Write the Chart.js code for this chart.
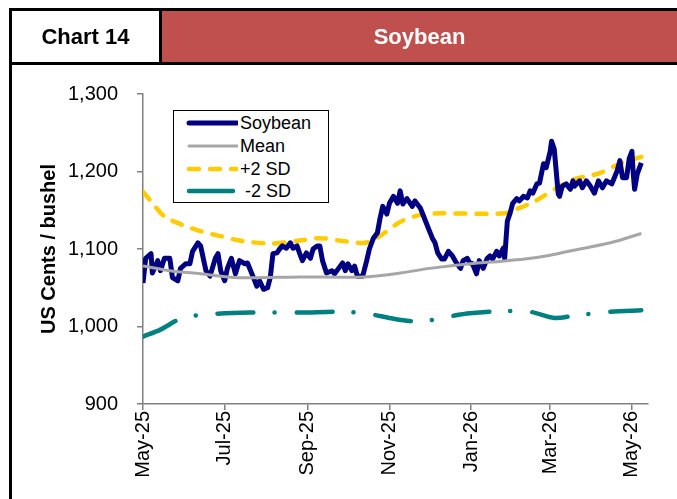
<!DOCTYPE html>
<html lang="en">
<head>
    <meta charset="UTF-8">
    <title>Chart 14 - Soybean</title>
    <style>
        body { margin: 0; background: #FFFFFF; font-family: "Liberation Sans", Arial, sans-serif; }
        #page { position: relative; width: 677px; height: 499px; overflow: hidden; background: #FFFFFF; }
        #chartCanvas { position: absolute; left: 0; top: 0; }
        .bar { position: absolute; background: #000000; }
        .cell { position: absolute; display: flex; align-items: center; justify-content: center; font-weight: bold; font-size: 22px; }
        #legend { position: absolute; left: 173px; top: 110px; width: 154px; height: 91px; border: 1px solid #000000; background: #FFFFFF; }
        .row { position: absolute; left: 0; height: 20px; width: 154px; }
        .row svg { position: absolute; left: 12px; top: 0; }
        .row span { position: absolute; left: 66px; top: 0; font-size: 18px; line-height: 20px; color: #000000; white-space: pre; }
    </style>
    <script src="https://cdn.jsdelivr.net/npm/chart.js"></script>
</head>
<body>
<div id="page">
    <canvas id="chartCanvas" width="677" height="499"></canvas>

    <!-- header frame -->
    <div class="bar" style="left:9px; top:8px; width:3px; height:491px;"></div>
    <div class="bar" style="left:9px; top:8px; width:668px; height:3px;"></div>
    <div class="bar" style="left:9px; top:62px; width:668px; height:3px;"></div>
    <div class="bar" style="left:159px; top:8px; width:3px; height:57px;"></div>
    <div class="cell" style="left:12px; top:11px; width:147px; height:51px; color:#000000;">Chart 14</div>
    <div class="cell" style="left:162px; top:11px; width:515px; height:51px; background:#C0504D; color:#FFFFFF;">Soybean</div>

    <!-- legend -->
    <div id="legend">
        <div class="row" style="top:2px;">
            <svg width="52" height="20"><line x1="3" y1="10" x2="51" y2="10" stroke="#000080" stroke-width="5" stroke-linecap="round"/></svg>
            <span>Soybean</span>
        </div>
        <div class="row" style="top:25px;">
            <svg width="52" height="20"><line x1="3" y1="10" x2="51" y2="10" stroke="#A6A6A6" stroke-width="3" stroke-linecap="round"/></svg>
            <span>Mean</span>
        </div>
        <div class="row" style="top:48px;">
            <svg width="52" height="20"><line x1="3" y1="10" x2="51" y2="10" stroke="#FFCC00" stroke-width="4.5" stroke-linecap="round" stroke-dasharray="10 11"/></svg>
            <span>+2 SD</span>
        </div>
        <div class="row" style="top:70px;">
            <svg width="52" height="20"><line x1="3" y1="10" x2="47" y2="10" stroke="#008080" stroke-width="4.5" stroke-linecap="round"/></svg>
            <span> -2 SD</span>
        </div>
    </div>
</div>

<script>
    // x values are days since 1 May 2025
    const tickDays = [0, 61, 123, 184, 245, 304, 365];
    const tickLabels = ["May-25", "Jul-25", "Sep-25", "Nov-25", "Jan-26", "Mar-26", "May-26"];

    // Soybean price (US cents / bushel)
    const soyDays = [0, 2, 6, 7, 11, 13, 16, 20, 22, 26, 28, 32, 35, 37, 41, 43, 47, 50, 54, 56,
        58, 61, 63, 66, 69, 72, 76, 78, 82, 85, 87, 90, 93, 95, 97, 100, 102, 104, 107, 110,
        112, 115, 117, 119, 122, 125, 127, 130, 132, 134, 137, 141, 143, 146, 149, 151, 153, 156, 158, 160,
        164, 167, 169, 172, 175, 177, 179, 182, 184, 187, 190, 192, 194, 197, 201, 203, 207, 210, 213, 216,
        218, 220, 223, 225, 228, 231, 234, 237, 239, 242, 244, 246, 249, 251, 254, 257, 259, 261, 264, 266,
        269, 270, 272, 274, 276, 279, 281, 284, 287, 289, 291, 294, 296, 299, 301, 304, 305, 307, 310, 311,
        313, 316, 319, 321, 322, 326, 328, 331, 334, 337, 340, 343, 346, 350, 354, 356, 358, 361, 363, 365,
        366, 367, 369, 372];
    const soyValues = [1056, 1088, 1094, 1069, 1085, 1072, 1088, 1088, 1063, 1059, 1075, 1081, 1081, 1097, 1108, 1104, 1072, 1065, 1088, 1094,
        1072, 1059, 1075, 1088, 1068, 1085, 1081, 1082, 1065, 1052, 1059, 1048, 1050, 1063, 1094, 1095, 1100, 1104, 1101, 1108,
        1101, 1104, 1094, 1085, 1095, 1088, 1100, 1104, 1104, 1085, 1069, 1072, 1068, 1075, 1082, 1072, 1081, 1072, 1078, 1065,
        1065, 1085, 1100, 1114, 1121, 1140, 1155, 1145, 1159, 1168, 1159, 1175, 1158, 1165, 1155, 1162, 1153, 1140, 1127, 1114,
        1108, 1095, 1087, 1087, 1097, 1091, 1082, 1075, 1085, 1088, 1082, 1081, 1068, 1085, 1075, 1088, 1091, 1087, 1097, 1091,
        1101, 1088, 1136, 1146, 1159, 1165, 1162, 1168, 1166, 1175, 1172, 1184, 1185, 1210, 1205, 1226, 1239, 1229, 1171, 1168,
        1181, 1184, 1177, 1188, 1181, 1188, 1179, 1188, 1181, 1172, 1188, 1179, 1188, 1184, 1201, 1214, 1192, 1192, 1217, 1226,
        1197, 1177, 1197, 1211];

    // Mean
    const meanDays = [0, 20, 43, 71, 117, 164, 192, 214, 244, 266, 285, 304, 326, 349, 372];
    const meanValues = [1078, 1072, 1068, 1063, 1064, 1064, 1069, 1075, 1081, 1084, 1087, 1092, 1100, 1108, 1120];

    // +2 SD
    const upperDays = [0, 9, 16, 28, 43, 57, 72, 95, 117, 132, 151, 166, 177, 192, 207, 222, 270, 281, 293, 311, 322, 341, 356, 372];
    const upperValues = [1174, 1155, 1142, 1132, 1123, 1117, 1111, 1107, 1111, 1114, 1110, 1108, 1117, 1135, 1144, 1146, 1146, 1153, 1162, 1181, 1190, 1198, 1210, 1219];

    // -2 SD
    const lowerDays = [0, 13, 28, 43, 80, 117, 151, 169, 184, 199, 214, 229, 244, 270, 289, 307, 326, 349, 372];
    const lowerValues = [987, 996, 1010, 1015, 1018, 1018, 1019, 1016, 1011, 1007, 1008, 1013, 1017, 1020, 1019, 1011, 1015, 1019, 1021];

    function toPoints(days, values) {
        return days.map((d, i) => ({ x: d, y: values[i] }));
    }

    const font = { family: "'Liberation Sans', Arial, sans-serif", size: 20 };

    new Chart(document.getElementById("chartCanvas").getContext("2d"), {
        type: "line",
        data: {
            datasets: [
                {
                    label: "-2 SD",
                    data: toPoints(lowerDays, lowerValues),
                    borderColor: "#008080",
                    borderWidth: 4.5,
                    borderDash: [36, 21, 0.1, 22],
                    borderCapStyle: "round",
                    pointRadius: 0,
                    tension: 0.3
                },
                {
                    label: "Mean",
                    data: toPoints(meanDays, meanValues),
                    borderColor: "#A6A6A6",
                    borderWidth: 3,
                    pointRadius: 0,
                    tension: 0.3
                },
                {
                    label: "Soybean",
                    data: toPoints(soyDays, soyValues),
                    borderColor: "#000080",
                    borderWidth: 5,
                    borderJoinStyle: "round",
                    pointRadius: 0,
                    tension: 0
                },
                {
                    label: "+2 SD",
                    data: toPoints(upperDays, upperValues),
                    borderColor: "#FFCC00",
                    borderWidth: 4.5,
                    borderDash: [10, 11],
                    borderCapStyle: "round",
                    pointRadius: 0,
                    tension: 0.3
                }
            ]
        },
        options: {
            responsive: false,
            animation: false,
            layout: { padding: { left: 0, top: 94, right: 29, bottom: 0 } },
            plugins: { legend: { display: false }, tooltip: { enabled: false } },
            scales: {
                x: {
                    type: "linear",
                    min: 0,
                    max: 377,
                    afterFit: scale => { scale.height = 95; },
                    afterBuildTicks: scale => { scale.ticks = tickDays.map(v => ({ value: v })); },
                    grid: { drawOnChartArea: false, drawTicks: true, tickLength: 6, color: "#808080", lineWidth: 1.5 },
                    border: { color: "#808080", width: 1.5 },
                    ticks: {
                        color: "#000000",
                        font: font,
                        padding: 1,
                        minRotation: 90,
                        maxRotation: 90,
                        autoSkip: false,
                        callback: (value) => tickLabels[tickDays.indexOf(value)]
                    }
                },
                y: {
                    min: 900,
                    max: 1300,
                    afterFit: scale => { scale.width = 143; },
                    grid: { drawOnChartArea: false, drawTicks: true, tickLength: 6, color: "#808080", lineWidth: 1.5 },
                    border: { color: "#808080", width: 1.5 },
                    ticks: {
                        stepSize: 100,
                        color: "#000000",
                        font: font,
                        padding: 19,
                        callback: (value) => value.toLocaleString("en-US")
                    },
                    title: {
                        display: true,
                        text: "US Cents / bushel",
                        color: "#000000",
                        font: { family: font.family, size: 20, weight: "bold" },
                        padding: { top: 37, bottom: 0 }
                    }
                }
            }
        }
    });
</script>
</body>
</html>
